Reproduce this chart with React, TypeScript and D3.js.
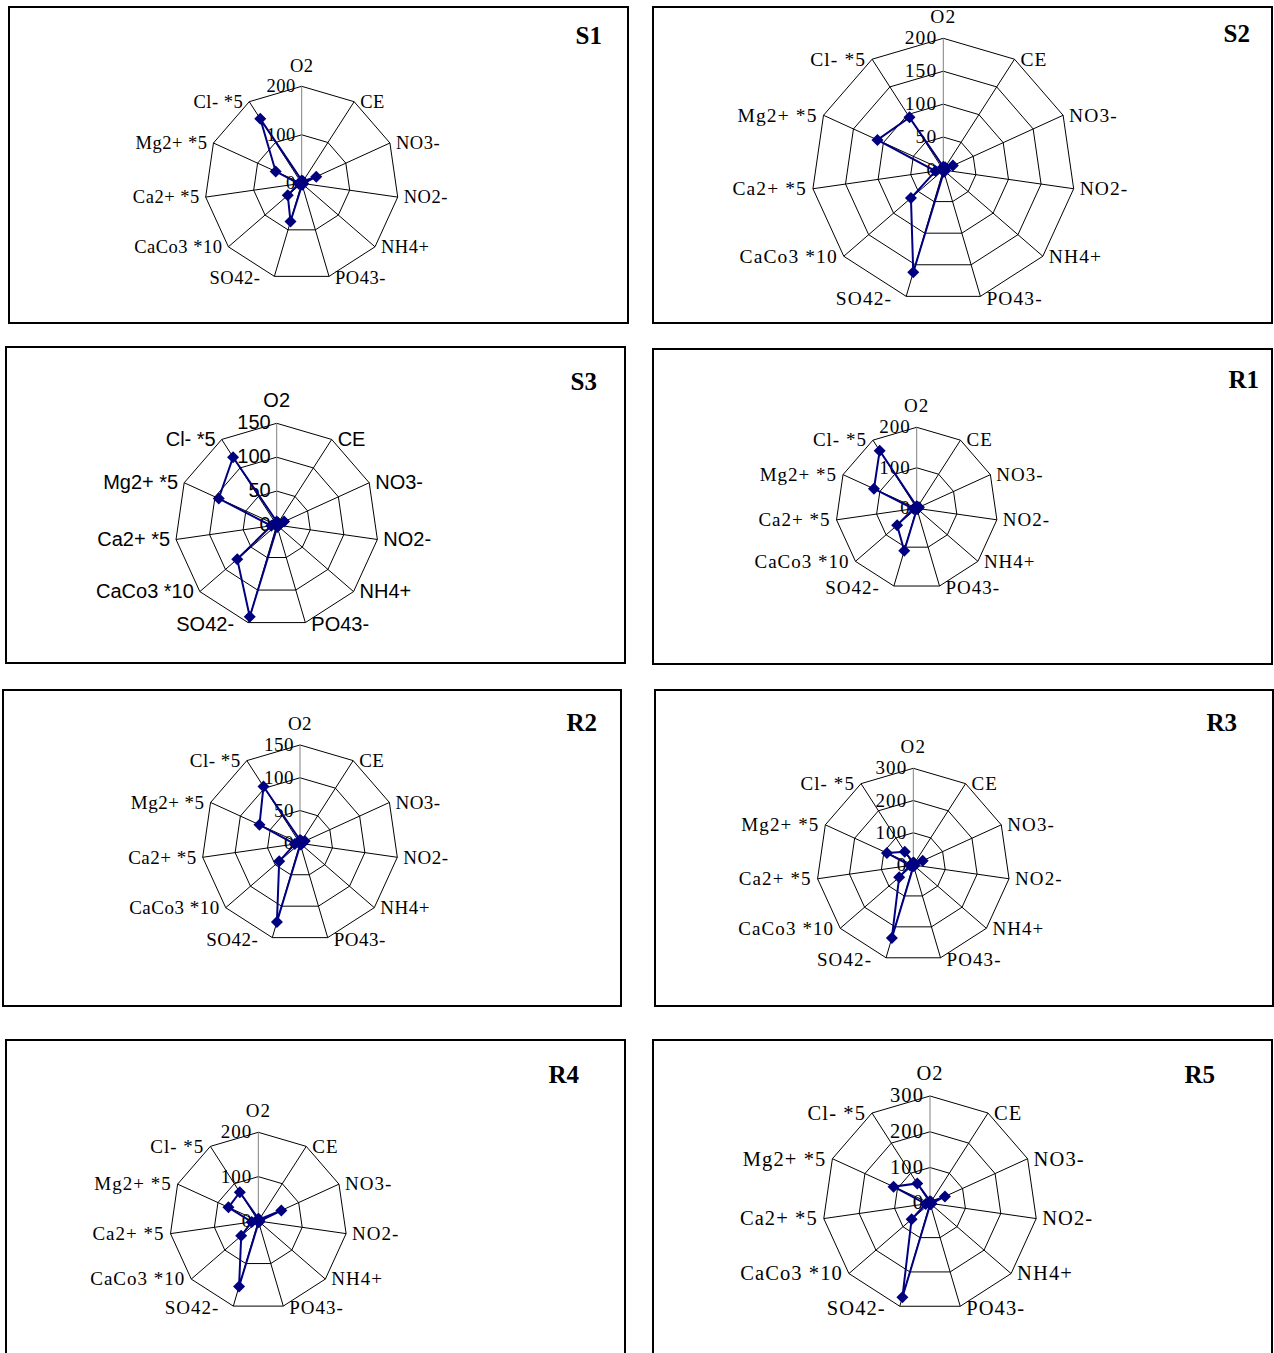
import React from 'react';
import * as d3 from 'd3';

// axes, clockwise from the top
const categories = ['O2', 'CE', 'NO3-', 'NO2-', 'NH4+', 'PO43-', 'SO42-', 'CaCo3 *10', 'Ca2+ *5', 'Mg2+ *5', 'Cl- *5'];

const valuesS1 = [6, 5, 33, 3, 2, 3, 82, 38, 6, 59, 158];
const valuesS2 = [5, 5, 16, 3, 2, 3, 162, 65, 12, 110, 95];
const valuesS3 = [5, 4, 12, 3, 2, 3, 141, 77, 8, 94, 119];
const valuesR1 = [5, 4, 6, 3, 2, 2, 109, 64, 8, 116, 169];
const valuesR2 = [5, 4, 8, 3, 2, 2, 125, 42, 8, 68, 103];
const valuesR3 = [8, 6, 32, 4, 3, 3, 236, 58, 10, 90, 49];
const valuesR4 = [5, 4, 57, 3, 2, 3, 154, 51, 15, 74, 77];
const valuesR5 = [6, 5, 46, 4, 3, 3, 274, 68, 12, 112, 66];

// value axis tick labels
const ticks100to200 = [0, 100, 200];
const ticks50to200 = [0, 50, 100, 150, 200];
const ticks50to150 = [0, 50, 100, 150];
const ticks100to300 = [0, 100, 200, 300];

const SERIF = "'Liberation Serif', 'Times New Roman', serif";
const SANS = "'Liberation Sans', Arial, sans-serif";
const NAVY = '#000080';

const panels = [
  { name: 'S1', values: valuesS1, ticks: ticks100to200, box: [9, 7, 628, 323], cx: 301.7, cy: 183.3, radius: 97, font: SERIF, size: 18.5, ls: 0.5, title: [602, 44] },
  { name: 'S2', values: valuesS2, ticks: ticks50to200, box: [653, 7, 1272, 323], cx: 943.3, cy: 170, radius: 131.7, font: SERIF, size: 19.5, ls: 1.1, title: [1250, 42] },
  { name: 'S3', values: valuesS3, ticks: ticks50to150, box: [6, 347, 625, 663], cx: 276.7, cy: 525, radius: 101.7, font: SANS, size: 20, ls: 0, title: [597, 390] },
  { name: 'R1', values: valuesR1, ticks: ticks100to200, box: [653, 349, 1272, 664], cx: 916.7, cy: 508.3, radius: 81, font: SERIF, size: 19, ls: 1, title: [1259, 388] },
  { name: 'R2', values: valuesR2, ticks: ticks50to150, box: [3, 690, 621, 1006], cx: 300, cy: 843.3, radius: 98.3, font: SERIF, size: 19, ls: 0.5, title: [597, 731] },
  { name: 'R3', values: valuesR3, ticks: ticks100to300, box: [655, 690, 1273, 1006], cx: 913.3, cy: 865, radius: 96.7, font: SERIF, size: 19, ls: 1.1, title: [1237, 731] },
  { name: 'R4', values: valuesR4, ticks: ticks100to200, box: [6, 1040, 625, 1362], cx: 258.3, cy: 1221, radius: 88.7, font: SERIF, size: 19, ls: 1, title: [579, 1083] },
  { name: 'R5', values: valuesR5, ticks: ticks100to300, box: [653, 1040, 1272, 1362], cx: 930, cy: 1203.3, radius: 107.3, font: SERIF, size: 20.5, ls: 1.1, title: [1215, 1083] },
];

const angle = d3.scaleLinear().domain([0, categories.length]).range([0, 2 * Math.PI]);
const diamond = d3.symbol(d3.symbolSquare, 72)();

function Radar({ p }: { p: any }) {
  const maxTick = p.ticks[p.ticks.length - 1];
  const r = d3.scaleLinear().domain([0, maxTick]).range([0, p.radius]);
  const ring = d3.lineRadial<number>()
    .angle((_, i) => angle(i))
    .radius(d => r(d))
    .curve(d3.curveLinearClosed);
  const [x1, y1, x2, y2] = p.box;

  return (
    <g>
      <rect x={x1} y={y1} width={x2 - x1} height={y2 - y1} fill="#fff" stroke="#000" strokeWidth={2} />
      <text x={p.title[0]} y={p.title[1]} textAnchor="end" fontFamily={SERIF} fontWeight="bold" fontSize={25}>{p.name}</text>
      <g transform={`translate(${p.cx},${p.cy})`} fontFamily={p.font} fontSize={p.size} letterSpacing={p.ls}>
        {p.ticks.filter(t => t > 0).map(t => (
          <path key={t} d={ring(categories.map(() => t)) || ''} fill="none" stroke="#000" strokeWidth={1} />
        ))}
        {categories.map((c, i) => {
          const [x, y] = d3.pointRadial(angle(i), p.radius);
          return <line key={c} x1={0} y1={0} x2={x} y2={y} stroke={i === 0 ? '#808080' : '#000'} strokeWidth={1} />;
        })}
        {p.ticks.map(t => (
          <text key={t} x={-6} y={-r(t) + 6} textAnchor="end">{t}</text>
        ))}
        {categories.map((c, i) => {
          const a = angle(i);
          const [x, y] = d3.pointRadial(a, p.radius);
          const s = Math.sin(a);
          if (Math.abs(s) < 0.01) {
            return <text key={c} x={x} y={y - p.size * 0.8} textAnchor="middle">{c}</text>;
          }
          const gap = i === 6 ? 14 : 6;
          return (
            <text key={c} x={s > 0 ? x + gap : x - gap} y={y + p.size * 0.33 + (Math.cos(a) < -0.9 ? 2 : 0)} textAnchor={s > 0 ? 'start' : 'end'}>{c}</text>
          );
        })}
        <path d={ring(p.values) || ''} fill="none" stroke={NAVY} strokeWidth={2} />
        {p.values.map((v, i) => {
          const [x, y] = d3.pointRadial(angle(i), r(v));
          return <path key={i} d={diamond || ''} transform={`translate(${x},${y}) rotate(45)`} fill={NAVY} />;
        })}
      </g>
    </g>
  );
}

export default function App() {
  return (
    <svg width={1274} height={1353} style={{ position: 'absolute', left: 0, top: 0, background: '#fff' }}>
      <rect width={1274} height={1353} fill="#fff" />
      {panels.map(p => <Radar key={p.name} p={p} />)}
    </svg>
  );
}
